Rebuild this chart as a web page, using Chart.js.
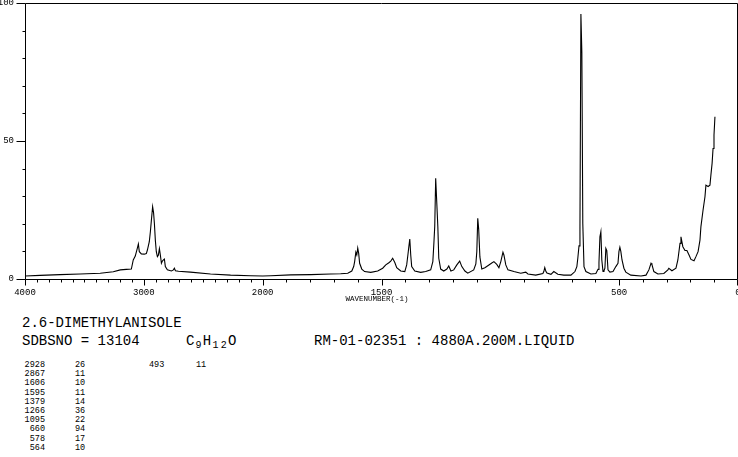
<!DOCTYPE html>
<html><head><meta charset="utf-8">
<script src="https://cdn.jsdelivr.net/npm/chart.js@4/dist/chart.umd.min.js"></script>
<style>
html,body{margin:0;padding:0;background:#fff;width:738px;height:457px;overflow:hidden;}
#c{position:absolute;left:0;top:0;}
.t{position:absolute;font-family:'Liberation Mono','DejaVu Sans Mono',monospace;color:#000;white-space:pre;line-height:1;}
.big{font-size:14px;}
.tbl{font-size:8.5px;line-height:9.2px;}
.sb{display:inline-block;width:8.4px;text-align:center;font-size:10px;position:relative;top:3px;}
</style></head><body>
<canvas id="c" width="738" height="310"></canvas>
<div class="t" id="xtitle" style="font-size:7.5px;top:296px;left:377px;transform:translateX(-50%);">WAVENUMBER(-1)</div>
<div class="t big" style="left:22px;top:316px;">2.6-DIMETHYLANISOLE</div>
<div class="t big" style="left:22px;top:334px;">SDBSNO = 13104</div>
<div class="t big" style="left:186px;top:334px;">C<span class="sb">9</span>H<span class="sb">1</span><span class="sb">2</span>O</div>
<div class="t big" style="left:314px;top:334px;">RM-01-02351 : 4880A.200M.LIQUID</div>
<div class="t tbl" id="col1" style="left:15px;top:361px;width:30px;text-align:right;"></div>
<div class="t tbl" id="col2" style="left:75px;top:361px;"></div>
<div class="t tbl" id="col3" style="left:149px;top:361px;"></div>
<div class="t tbl" id="col4" style="left:196px;top:361px;"></div>
<script>
// ---- data ----
const wavenumber = [
 4000,3873,3705,3536,3367,3257,3198,3148,3105,3089,3072,3055,3046,3038,3021,2996,2979,2970,2954,2945,2937,2926,2918,2911,2903,2895,2886,2878,2869,2861,2852,2844,2835,2827,2819,2802,2768,2751,2743,2734,2709,2608,2439,2270,2101,2000,
 1966,1882,1798,1714,1672,1642,1625,1617,1613,1608,1604,1600,1596,1592,1583,1571,1545,1516,1495,1482,1469,1461,1453,1444,1436,1419,1402,1394,1389,1385,1381,1377,1373,1360,1335,1314,1293,1284,1280,1276,1272,1267,1263,1259,1251,1238,1225,1217,1208,1196,1183,1171,1162,1149,1137,1112,1103,1099,1095,1091,1086,1078,1065,1048,1036,1027,1015,1006,998,989,985,977,968,943,914,893,884,851,821,817,813,808,804,787,775,758,733,703,686,678,674,669,665,661,657,653,648,640,619,598,589,585,581,577,573,568,564,560,556,552,547,539,526,514,505,501,497,493,488,480,472,451,408,387,375,366,362,354,337,312,295,291,278,261,253,244,240,232,223,215,206,198,185,177,168,160,156,147,139,135,126,118,114,109,105,101,97
];
const intensity = [
 1.1,1.3,1.6,1.8,2.1,2.6,3.3,3.5,3.6,6.9,8.3,11.1,12.7,9.9,9.1,9.0,9.2,10.5,13.5,17.1,21.0,26.2,24.0,20.0,14.0,9.9,8.1,8.6,11.0,8.7,5.7,6.5,6.9,7.2,4.5,3.3,2.9,3.3,3.9,3.0,2.8,2.5,1.8,1.4,1.2,1.1,
 1.2,1.5,1.6,1.8,1.9,2.1,2.9,4.5,6.3,9.7,8.7,11.2,9.3,5.7,3.6,2.7,2.4,2.9,3.9,5.1,5.9,6.5,7.5,6.0,4.1,2.9,2.7,5.1,8.7,11.7,14.5,8.7,4.5,2.9,2.4,2.7,3.3,6.3,12.3,19,36.5,26.8,19,7.5,3.6,2.9,3.6,4.7,2.9,3.3,5.1,6.5,4.5,2.9,2.1,3.3,5.5,9.9,22,17.9,8.0,3.6,4.1,5.1,5.8,6.3,5.3,4.1,6.3,9.7,8.7,5.1,3.3,2.7,2.1,2.5,1.8,1.4,2.0,2.7,4.1,2.7,2.2,1.7,2.7,1.7,1.4,1.4,2.7,4.5,7.5,12,19,96,82,20,4.5,2.7,1.8,2.0,3.5,6,15.3,17.1,6.9,2.7,3.0,3.9,11.1,10.3,3.3,2.5,2.7,4.5,5.7,9.9,11.5,10,6.9,3.9,2.5,1.4,1.1,1.4,3.3,5.7,5.2,2.7,1.8,2.0,3.3,3.9,3.0,3.9,6.9,12.9,15.3,11.7,10.3,10.3,8.7,7.1,6.6,8.1,9.9,14.1,19,25,29.8,34,33.5,34,37.7,41.9,47.3,52.2,58.8
];
const xTickLabels = [4000, 3000, 2000, 1500, 500, 0];
const yTickLabels = [0, 50, 100];
const xMinorStep = 100;
const yMinorStep = 10;
const peakWavenumbers = [2928, 2867, 1606, 1595, 1379, 1266, 1095, 660, 578, 564, 493];
const peakIntensities = [26, 11, 10, 11, 14, 36, 22, 94, 17, 10, 11];

// ---- peak table text ----
document.getElementById('col1').textContent = peakWavenumbers.slice(0,10).join('\n');
document.getElementById('col2').textContent = peakIntensities.slice(0,10).join('\n');
document.getElementById('col3').textContent = String(peakWavenumbers[10]);
document.getElementById('col4').textContent = String(peakIntensities[10]);

// two-speed wavenumber axis: 4000-2000 compressed by half, 2000-0 full scale
function toU(w){ return w >= 2000 ? (4000 - w) / 2 : 1000 + (2000 - w); }

const axisTicks = {
  id: 'axisTicks',
  afterDraw(chart){
    const {ctx, chartArea: a, scales: {x, y}} = chart;
    ctx.save();
    ctx.strokeStyle = '#000'; ctx.lineWidth = 1;
    const L = Math.round(a.left) + 0.5, R = Math.round(a.right) - 0.5;
    const T = Math.round(a.top) + 0.5, B = Math.round(a.bottom) + 0.5;
    ctx.beginPath();
    ctx.rect(L, T, R - L, B - T);
    for (let w = 4000; w >= 0; w -= xMinorStep){
      const px = Math.round(x.getPixelForValue(toU(w))) + 0.5;
      const len = xTickLabels.includes(w) ? 6 : 3;
      ctx.moveTo(Math.min(px, R), B); ctx.lineTo(Math.min(px, R), B + len);
    }
    for (let v = 0; v <= 100; v += yMinorStep){
      const py = Math.round(y.getPixelForValue(v)) + 0.5;
      const len = yTickLabels.includes(v) ? 9 : 3;
      ctx.moveTo(L, py); ctx.lineTo(L - len, py);
    }
    ctx.stroke();
    ctx.restore();
  }
};

const tickFont = {family: "'Liberation Mono','DejaVu Sans Mono',monospace", size: 9};

new Chart(document.getElementById('c'), {
  type: 'line',
  data: {
    datasets: [{
      data: wavenumber.map((w, i) => ({x: toU(w), y: intensity[i]})),
      borderColor: '#000', borderWidth: 1.1, pointRadius: 0, fill: false, tension: 0
    }]
  },
  options: {
    responsive: false, animation: false, devicePixelRatio: 1,
    layout: {padding: {left: 0, right: 0, top: 3, bottom: 0}},
    plugins: {legend: {display: false}, tooltip: {enabled: false}},
    scales: {
      x: {
        type: 'linear', min: 0, max: 3000,
        grid: {display: false, drawTicks: false}, border: {display: false},
        afterBuildTicks(s){ s.ticks = xTickLabels.map(w => ({value: toU(w)})); },
        ticks: {autoSkip: false, maxRotation: 0, minRotation: 0, padding: 8, color: '#000', font: tickFont,
                callback: (v, i) => String(xTickLabels[i])},
        afterFit(s){ s.height = 31; s.paddingLeft = 0; s.paddingRight = 0; }
      },
      y: {
        type: 'linear', min: 0, max: 100,
        grid: {display: false, drawTicks: false}, border: {display: false},
        afterBuildTicks(s){ s.ticks = yTickLabels.map(v => ({value: v})); },
        ticks: {padding: 11, color: '#000', font: tickFont, callback: (v) => String(v)},
        afterFit(s){ s.width = 25; s.paddingTop = 0; s.paddingBottom = 0; }
      }
    }
  },
  plugins: [axisTicks]
});
</script>
</body></html>
